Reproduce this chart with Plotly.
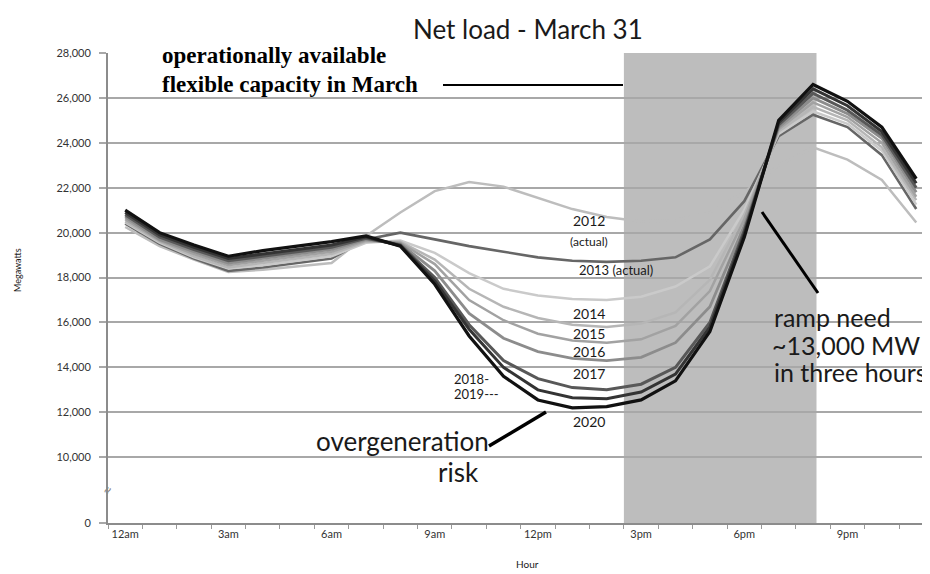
import plotly.graph_objects as go

# ---------------- data ----------------
HOURS = list(range(24))
TICK_HOURS = [0, 3, 6, 9, 12, 15, 18, 21]
TICK_LABELS = ["12am", "3am", "6am", "9am", "12pm", "3pm", "6pm", "9pm"]
Y_TICKS = [10000, 12000, 14000, 16000, 18000, 20000, 22000, 24000, 26000, 28000]
Y_ZERO_POS = 7070  # broken axis: where the "0" label sits

LOAD_2012 = [20250, 19400, 18800, 18250, 18350, 18500, 18650, 19850, 20900, 21850, 22250, 22050,
             21550, 21050, 20700, 20500, 20550, 20900, 21800, 23000, 23800, 23250, 22350, 20450]
LOAD_2013 = [20400, 19500, 18850, 18300, 18450, 18650, 18850, 19700, 20000, 19700, 19400, 19150,
             18900, 18750, 18700, 18750, 18900, 19700, 21400, 24300, 25250, 24700, 23450, 21050]
LOAD_2014 = [20450, 19550, 18900, 18400, 18550, 18750, 18950, 19550, 19650, 19100, 18200, 17500,
             17200, 17050, 17000, 17150, 17600, 18500, 21000, 24400, 25400, 24850, 23650, 21250]
LOAD_2015 = [20500, 19600, 18950, 18450, 18650, 18850, 19050, 19600, 19600, 18800, 17500, 16700,
             16200, 15900, 15800, 15950, 16450, 17900, 20800, 24500, 25600, 25000, 23800, 21450]
LOAD_2016 = [20600, 19650, 19050, 18550, 18750, 18950, 19150, 19650, 19550, 18600, 17000, 16100,
             15500, 15200, 15100, 15250, 15850, 17400, 20600, 24600, 25800, 25150, 24000, 21600]
LOAD_2017 = [20700, 19700, 19150, 18650, 18850, 19050, 19250, 19700, 19500, 18300, 16400, 15300,
             14700, 14400, 14300, 14450, 15100, 16700, 20300, 24700, 26000, 25300, 24200, 21800]
LOAD_2018 = [20800, 19800, 19250, 18750, 18950, 19150, 19350, 19750, 19450, 18000, 15900, 14300,
             13500, 13100, 13000, 13250, 14000, 16000, 20100, 24800, 26200, 25450, 24350, 22000]
LOAD_2019 = [20900, 19900, 19350, 18850, 19050, 19250, 19450, 19800, 19420, 17850, 15700, 14000,
             13000, 12650, 12600, 12900, 13700, 15800, 19950, 24900, 26400, 25650, 24500, 22200]
LOAD_2020 = [21000, 20000, 19450, 18950, 19200, 19400, 19600, 19850, 19400, 17700, 15400, 13600,
             12550, 12200, 12250, 12550, 13400, 15600, 19800, 25000, 26600, 25850, 24700, 22400]

YEARS = ["2012", "2013", "2014", "2015", "2016", "2017", "2018", "2019", "2020"]
SERIES = [LOAD_2012, LOAD_2013, LOAD_2014, LOAD_2015, LOAD_2016, LOAD_2017, LOAD_2018, LOAD_2019, LOAD_2020]

# ---------------- styles ----------------
COLORS = ["#bdbdbd", "#666666", "#cacaca", "#b6b6b6", "#a2a2a2", "#8c8c8c", "#585858", "#343434", "#111111"]
WIDTHS = [2.5, 2.6, 2.5, 2.5, 2.5, 2.8, 3, 3, 3.2]

FONT = "Lato, 'Noto Sans', sans-serif"
SERIF = "'Liberation Serif', 'Times New Roman', serif"

OFF = 8                    # page body margin in the browser
W, H = 930 - OFF, 574 - OFF
L, R, T, B = 108 - OFF, 0, 53 - OFF, 51


def px(x):  # screen pixel -> paper
    return (x - OFF - L) / (W - L - R)


def py(y):
    return (H - B - (y - OFF)) / (H - T - B)


fig = go.Figure()

for year, vals, c, w in zip(YEARS, SERIES, COLORS, WIDTHS):
    fig.add_trace(go.Scatter(x=HOURS, y=vals, mode="lines", name=year,
                             line=dict(color=c, width=w), hoverinfo="x+y+name"))

# shaded ramp window
fig.add_shape(type="rect", xref="x", yref="y", x0=14.5, x1=20.1, y0=Y_ZERO_POS, y1=28000,
              fillcolor="#bdbdbd", line=dict(width=0), layer="below")

# pointer lines
fig.add_shape(type="line", xref="paper", yref="paper", x0=px(443), x1=px(623), y0=py(85), y1=py(85),
              line=dict(color="black", width=2))
fig.add_shape(type="line", xref="paper", yref="paper", x0=px(762), x1=px(818), y0=py(212), y1=py(293),
              line=dict(color="black", width=3))
fig.add_shape(type="line", xref="paper", yref="paper", x0=px(489), x1=px(546), y0=py(446), y1=py(412),
              line=dict(color="black", width=3.5))

ann = []


def text(x, y, s, size, xanchor="center", color="#1a1a1a", family=FONT, angle=0):
    ann.append(dict(x=px(x), y=py(y), xref="paper", yref="paper", text=s, showarrow=False,
                    xanchor=xanchor, yanchor="middle", textangle=angle,
                    font=dict(size=size, color=color, family=family), align="left"))


text(160, 56, "<b>operationally available</b>", 23, "left", "black", SERIF)
text(160, 84, "<b>flexible capacity in March</b>", 23, "left", "black", SERIF)

text(528, 29, "Net load - March 31", 26)
text(589, 220, "2012", 14)
text(589, 241, "(actual)", 12)
text(616, 270, "2013 (actual)", 13)
text(589, 313, "2014", 14)
text(589, 333, "2015", 14)
text(589, 351, "2016", 14)
text(589, 374, "2017", 14)
text(452, 379, "2018-", 13, "left")
text(452, 394, "2019---", 13, "left")
text(589, 421, "2020", 14)
text(491, 441, "overgeneration", 26, "right")
text(481, 472, "risk", 26, "right")
text(772, 317, "ramp need", 25, "left")
text(770, 345, "~13,000 MW", 25, "left")
text(772, 372, "in three hours", 25, "left")
text(17, 270, "Megawatts", 9, angle=-90)
text(527, 564, "Hour", 10)
text(106, 490, "≈", 16, color="#888888", angle=-60)

fig.update_layout(
    width=W, height=H,
    margin=dict(l=L, r=R, t=T, b=B),
    paper_bgcolor="white", plot_bgcolor="white",
    showlegend=False,
    annotations=ann,
    font=dict(family=FONT, color="#333"),
)
fig.update_xaxes(
    range=[-0.5, 23.4], tickmode="array", tickvals=TICK_HOURS, ticktext=TICK_LABELS,
    ticks="", showgrid=False, zeroline=False, showline=True, linecolor="#8c8c8c", linewidth=2,
    tickfont=dict(size=11, color="#333"),
    minor=dict(ticks="outside", tick0=0.5, dtick=1, ticklen=4, tickcolor="#999", showgrid=False),
)
fig.update_yaxes(
    range=[Y_ZERO_POS, 28000], tickmode="array",
    tickvals=[Y_ZERO_POS] + Y_TICKS,
    ticktext=["0"] + [f"{v:,}" for v in Y_TICKS],
    ticks="outside", ticklen=7, tickcolor="#a8a8a8", tickwidth=1.5,
    showgrid=True, gridcolor="#a8a8a8", gridwidth=1.5, zeroline=False,
    showline=True, linecolor="#8c8c8c", linewidth=2,
    tickfont=dict(size=11, color="#333"), ticklabelstandoff=6,
)

fig.write_html("out.html")
